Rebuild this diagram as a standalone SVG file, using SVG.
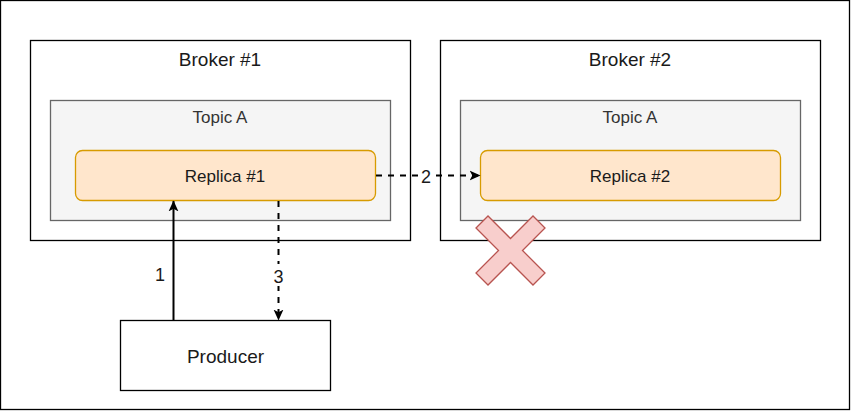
<svg xmlns="http://www.w3.org/2000/svg" width="851" height="411" viewBox="0 0 851 411">
<defs>
<style>
text{font-family:"Liberation Sans",Arial,sans-serif;text-anchor:middle;fill:#1a1a1a}
.broker{fill:#fff;stroke:#000;stroke-width:1.3}
.topic{fill:#f5f5f5;stroke:#666;stroke-width:1.3}
.replica{fill:#ffe6cc;stroke:#d79b00;stroke-width:1.3}
.edge{fill:none;stroke:#000;stroke-width:2}
.dash{stroke-dasharray:6 6}
</style>
<marker id="arr" viewBox="0 0 10 10" refX="9.5" refY="5" markerWidth="11" markerHeight="11" orient="auto" markerUnits="userSpaceOnUse">
<path d="M0,0.5 L10,5 L0,9.5 L2.5,5 Z" fill="#000"/>
</marker>
</defs>
<rect x="0.5" y="0.5" width="849" height="409" fill="#fff" stroke="#000" stroke-width="1.3"/>
<g id="broker1">
<rect class="broker" x="30.5" y="40.5" width="380" height="200"/>
<text x="220" y="66" font-size="19">Broker #1</text>
</g>
<g id="topic1">
<rect class="topic" x="50.5" y="100.5" width="340" height="120"/>
<text x="220" y="123" font-size="17" style="fill:#333">Topic A</text>
</g>
<g id="replica1">
<rect class="replica" x="75.5" y="150.5" width="300" height="50" rx="7"/>
<text x="225" y="182" font-size="17">Replica #1</text>
</g>
<g id="broker2">
<rect class="broker" x="440.5" y="40.5" width="380" height="200"/>
<text x="630" y="66" font-size="19">Broker #2</text>
</g>
<g id="topic2">
<rect class="topic" x="460.5" y="100.5" width="340" height="120"/>
<text x="630" y="123" font-size="17" style="fill:#333">Topic A</text>
</g>
<g id="replica2">
<rect class="replica" x="480.5" y="150.5" width="300" height="50" rx="7"/>
<text x="630" y="182" font-size="17">Replica #2</text>
</g>
<g id="producer">
<rect class="broker" x="120.5" y="320.5" width="210" height="70"/>
<text x="225.5" y="363" font-size="19">Producer</text>
</g>
<g id="failure">
<polygon points="476,228 488,216 510.5,238.5 533,216 545,228 522.5,250.5 545,273 533,285 510.5,262.5 488,285 476,273 498.5,250.5" fill="#f8cecc" stroke="#b85450" stroke-width="1.3"/>
</g>
<g id="connectors">
<line class="edge" x1="173.5" y1="320" x2="173.5" y2="201" marker-end="url(#arr)"/>
<text x="160" y="281" font-size="18">1</text>
<line class="edge dash" x1="376" y1="175.5" x2="480" y2="175.5" marker-end="url(#arr)"/>
<rect x="419" y="165" width="14" height="21" fill="#fff"/>
<text x="426" y="183" font-size="18">2</text>
<line class="edge dash" x1="278.5" y1="201" x2="278.5" y2="320" marker-end="url(#arr)"/>
<rect x="271" y="264" width="15" height="22" fill="#fff"/>
<text x="278.5" y="283" font-size="18">3</text>
</g>
</svg>
